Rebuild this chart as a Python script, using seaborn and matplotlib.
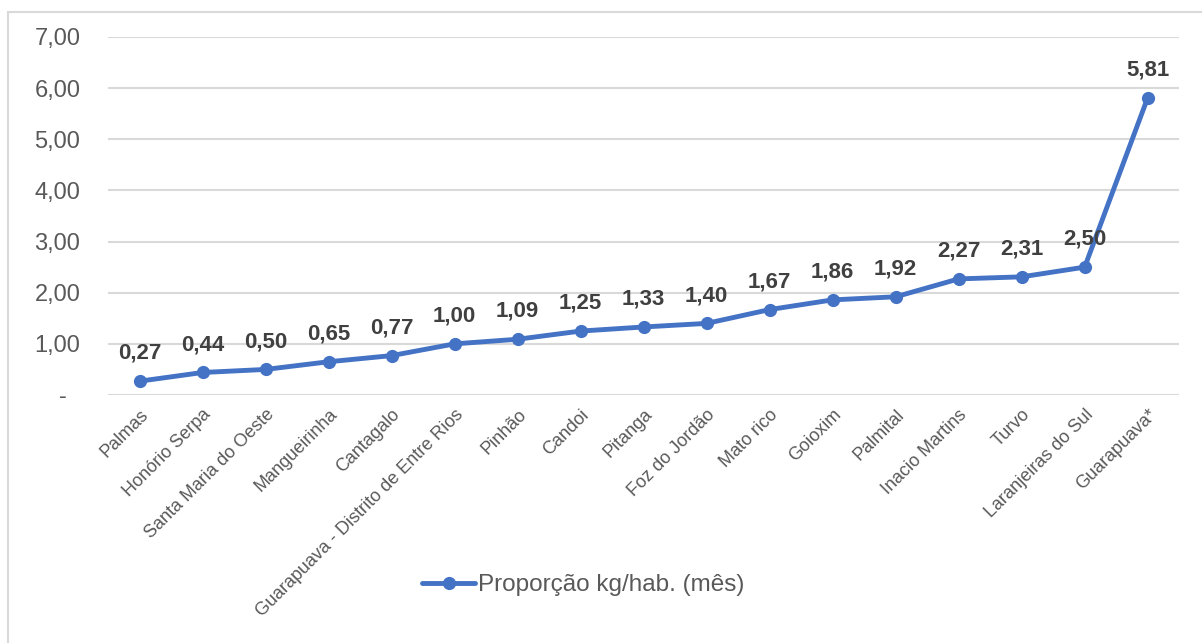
import pandas as pd
import matplotlib.pyplot as plt
import matplotlib.patches as mpatches
import seaborn as sns

# municipalities and monthly proportion (kg per inhabitant)
municipios = ['Palmas', 'Honório Serpa', 'Santa Maria do Oeste', 'Mangueirinha',
              'Cantagalo', 'Guarapuava - Distrito de Entre Rios', 'Pinhão', 'Candoi',
              'Pitanga', 'Foz do Jordão', 'Mato rico', 'Goioxim', 'Palmital',
              'Inacio Martins', 'Turvo', 'Laranjeiras do Sul', 'Guarapuava*']
proporcao = [0.27, 0.44, 0.50, 0.65, 0.77, 1.00, 1.09, 1.25, 1.33, 1.40,
             1.67, 1.86, 1.92, 2.27, 2.31, 2.50, 5.81]
y_ticks = [0, 1, 2, 3, 4, 5, 6, 7]
serie = 'Proporção kg/hab. (mês)'

df = pd.DataFrame({'municipio': municipios, 'valor': proporcao})

sns.set_style('white')
plt.rcParams['font.family'] = ['Liberation Sans', 'DejaVu Sans']

fig = plt.figure(figsize=(12.02, 6.43), dpi=100)
ax = fig.add_axes([0.0899, 0.3857, 0.8911, 0.5568])

blue = '#4472C4'
sns.lineplot(data=df, x='municipio', y='valor', sort=False, ax=ax,
             color=blue, linewidth=3.5, marker='o', markersize=9.5,
             markeredgewidth=0, label=serie, zorder=3)

# data labels
for i, v in enumerate(proporcao):
    ax.annotate(f'{v:.2f}'.replace('.', ','), (i, v), xytext=(0, 20),
                textcoords='offset points', ha='center', va='center',
                fontsize=16, fontweight='bold', color='#404040')

ax.set_xlim(-0.5, len(municipios) - 0.5)
ax.set_ylim(0, 7)
ax.set_yticks(y_ticks)
ax.set_yticklabels(['-  '] + [f'{t:.2f}'.replace('.', ',') for t in y_ticks[1:]])
ax.tick_params(axis='y', length=0, pad=20, labelsize=17, labelcolor='#595959')
ax.set_xticks(range(len(municipios)))
ax.set_xticklabels(municipios, rotation=45, ha='right', rotation_mode='anchor')
ax.tick_params(axis='x', length=0, pad=8, labelsize=13, labelcolor='#595959')
ax.grid(axis='y', color='#D9D9D9', linewidth=1.5)
ax.set_axisbelow(True)
for s in ax.spines.values():
    s.set_visible(False)
ax.set_xlabel('')
ax.set_ylabel('')

ax.get_legend().remove()
handles, labels = ax.get_legend_handles_labels()
fig.legend(handles, labels, loc='center', bbox_to_anchor=(0.485, 0.09),
           frameon=False, fontsize=17.5, handlelength=2.2, handletextpad=0.1,
           labelcolor='#595959')

# outer chart border
fig.patches.append(mpatches.Rectangle((8 / 1202, -0.01), 1.02, 1 - 12 / 643 + 0.01,
                                      transform=fig.transFigure, fill=False,
                                      edgecolor='#D9D9D9', linewidth=1.5))

fig.savefig('out.png', dpi=100)
